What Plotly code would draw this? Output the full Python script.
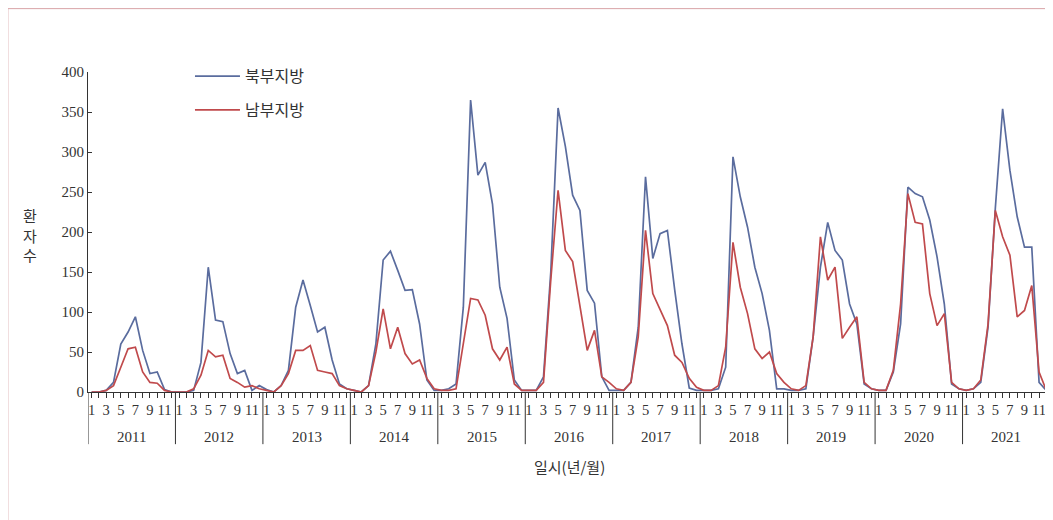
import plotly.graph_objects as go

years = [2011, 2012, 2013, 2014, 2015, 2016, 2017, 2018, 2019, 2020, 2021]
month_labels = ["1", "", "3", "", "5", "", "7", "", "9", "", "11", ""]

north = [
    0, 0, 2, 12, 60, 75, 94, 52, 23, 25, 3, 0,          # 2011
    0, 0, 2, 37, 156, 90, 88, 48, 23, 27, 2, 8,         # 2012
    3, 0, 8, 27, 106, 140, 108, 75, 81, 40, 10, 4,      # 2013
    2, 0, 8, 60, 165, 176, 152, 127, 128, 85, 15, 2,    # 2014
    2, 4, 10, 106, 365, 271, 287, 235, 131, 92, 15, 2,  # 2015
    2, 2, 19, 150, 355, 307, 246, 227, 127, 111, 19, 2, # 2016
    2, 2, 12, 81, 269, 167, 198, 202, 128, 60, 5, 2,    # 2017
    2, 2, 4, 31, 294, 244, 206, 156, 123, 77, 4, 4,     # 2018
    2, 2, 4, 69, 156, 212, 177, 165, 110, 85, 10, 4,    # 2019
    2, 2, 25, 85, 256, 248, 244, 215, 169, 110, 10, 4,  # 2020
    2, 4, 12, 81, 230, 354, 277, 219, 181, 181, 12, 2,  # 2021
]
south = [
    0, 0, 2, 8, 31, 54, 56, 25, 12, 11, 2, 0,           # 2011
    0, 0, 4, 21, 52, 44, 46, 17, 12, 6, 8, 4,           # 2012
    2, 0, 8, 23, 52, 52, 58, 27, 25, 23, 8, 4,          # 2013
    2, 0, 8, 50, 104, 54, 81, 48, 35, 40, 17, 4,        # 2014
    2, 2, 4, 60, 117, 115, 96, 54, 40, 56, 10, 2,       # 2015
    2, 2, 12, 140, 252, 177, 163, 107, 52, 77, 19, 12,  # 2016
    4, 2, 12, 69, 202, 123, 102, 83, 46, 37, 17, 6,     # 2017
    2, 2, 8, 56, 187, 131, 98, 54, 42, 50, 23, 12,      # 2018
    4, 2, 8, 69, 194, 140, 156, 67, 81, 94, 12, 4,      # 2019
    2, 2, 27, 110, 248, 212, 210, 123, 83, 98, 12, 4,   # 2020
    2, 4, 15, 85, 227, 194, 171, 94, 102, 133, 25, 2,   # 2021
]
y_ticks = [0, 50, 100, 150, 200, 250, 300, 350, 400]

n = len(years) * 12
xs = list(range(n))
tickvals = list(range(n))
ticktext = month_labels * len(years)

KR = "Noto Sans CJK KR"
SERIF = "Liberation Serif"
AX = "#333333"

fig = go.Figure()
fig.add_trace(go.Scatter(x=xs, y=north, mode="lines", name="북부지방", legendgroup="a",
                         line=dict(color="#5a6c9e", width=1.7)))
fig.add_trace(go.Scatter(x=xs, y=south, mode="lines", name="남부지방", legendgroup="b",
                         line=dict(color="#c04a4c", width=1.7)))

shapes = []
for k in range(len(years) + 1):
    shapes.append(dict(type="line", xref="x", yref="paper", x0=-0.5 + 12 * k, x1=-0.5 + 12 * k,
                       y0=0, y1=-0.163, line=dict(color=AX, width=1)))
# outer border (left, top, right)
border = dict(color="#d9a3a6", width=1)
shapes.append(dict(type="line", xref="paper", yref="paper", x0=-0.0833, x1=-0.0833, y0=1.198, y1=-0.4,
                   line=border))
shapes.append(dict(type="line", xref="paper", yref="paper", x0=-0.0833, x1=1.0088, y0=1.198, y1=1.198,
                   line=border))
shapes.append(dict(type="line", xref="paper", yref="paper", x0=1.0088, x1=1.0088, y0=1.198, y1=-0.4,
                   line=border))

annotations = []
for i, yr in enumerate(years):
    annotations.append(dict(x=12 * i + 5.5, y=-0.14, xref="x", yref="paper", text=str(yr),
                            showarrow=False, yanchor="middle", xanchor="center",
                            font=dict(family=SERIF, size=15, color=AX)))
annotations.append(dict(x=0.5, y=-0.234, xref="paper", yref="paper", text="일시(년/월)", showarrow=False,
                        yanchor="middle", xanchor="center", font=dict(family=KR, size=15, color=AX)))
annotations.append(dict(x=-0.06, y=0.49, xref="paper", yref="paper", text="환<br>자<br>수", showarrow=False,
                        yanchor="middle", xanchor="center", font=dict(family=KR, size=15, color=AX)))

fig.update_layout(
    width=1045, height=512,
    margin=dict(l=80, r=3, t=64, b=128),
    paper_bgcolor="white", plot_bgcolor="white",
    showlegend=True,
    legend=dict(x=0.106, y=1.04, xanchor="left", yanchor="top", bgcolor="rgba(0,0,0,0)",
                font=dict(family=KR, size=16, color=AX), tracegroupgap=10, itemwidth=45),
    xaxis=dict(range=[-0.5, n - 0.5], tickvals=tickvals, ticktext=ticktext, ticks="outside", ticklen=5,
               tickwidth=1, tickcolor=AX, showline=True, linecolor=AX, linewidth=1, showgrid=False,
               zeroline=False, tickangle=0, tickfont=dict(family=SERIF, size=14.5, color=AX)),
    yaxis=dict(range=[0, 400], tickvals=y_ticks, ticks="inside", ticklen=4, tickwidth=1, tickcolor=AX,
               showline=True, linecolor=AX, linewidth=1, showgrid=False, zeroline=False,
               tickfont=dict(family=SERIF, size=15, color=AX)),
    shapes=shapes, annotations=annotations,
)

fig.write_html("out.html")
